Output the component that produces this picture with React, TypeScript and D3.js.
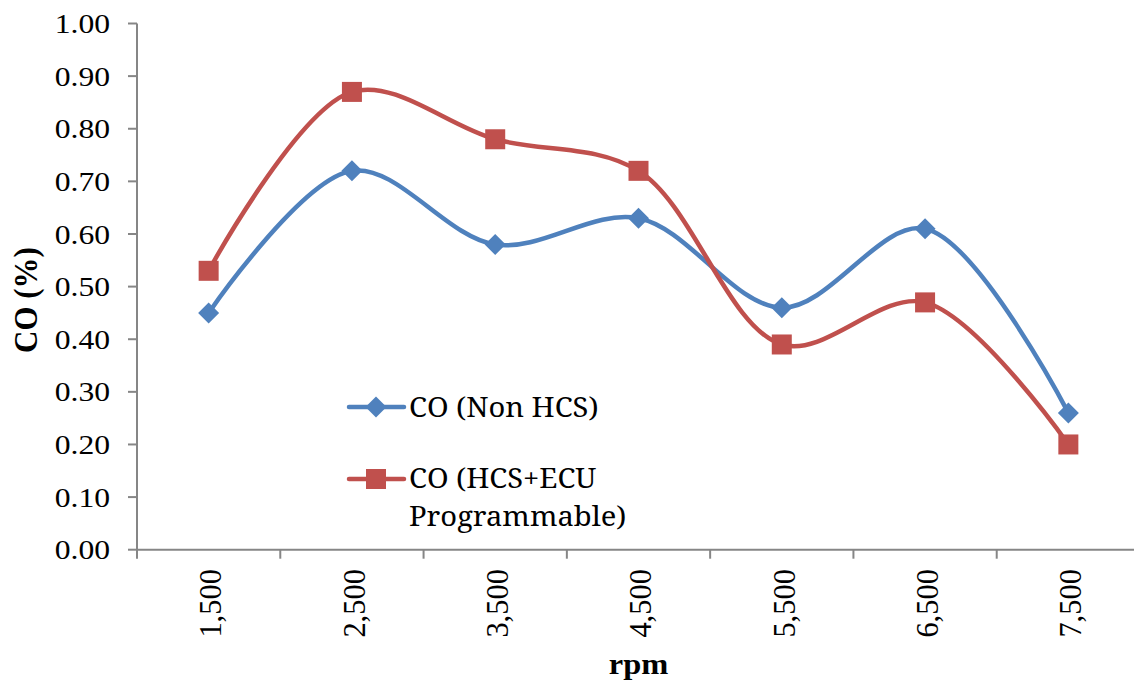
import React from "react";
import * as d3 from "d3";

const categories = ["1,500", "2,500", "3,500", "4,500", "5,500", "6,500", "7,500"];
const nonHCS = [0.45, 0.72, 0.58, 0.63, 0.46, 0.61, 0.26];
const hcsEcu = [0.53, 0.87, 0.78, 0.72, 0.39, 0.47, 0.2];
const yTicks = [0, 0.1, 0.2, 0.3, 0.4, 0.5, 0.6, 0.7, 0.8, 0.9, 1.0];

const W = 1134;
const H = 686;
const left = 137;
const right = 1140;
const top = 23.5;
const bottom = 549.7;
const BLUE = "#4F81BD";
const RED = "#C0504D";
const AXIS = "#868686";
const serif = "Liberation Serif, serif";
const legendFont = "Noto Serif, serif";

export default function App() {
  const x = d3.scaleBand<string>().domain(categories).range([left, right]).padding(0);
  const y = d3.scaleLinear().domain([0, 1]).range([bottom, top]);
  const cx = (c: string) => (x(c) as number) + x.bandwidth() / 2;
  const line = d3
    .line<number>()
    .x((_, i) => cx(categories[i]))
    .y((d) => y(d))
    .curve(d3.curveCatmullRom.alpha(0.5));

  const diamond = (px: number, py: number, r: number) =>
    `M${px},${py - r}L${px + r},${py}L${px},${py + r}L${px - r},${py}Z`;

  const boundaries = d3.range(categories.length + 1).map((i) => left + i * x.bandwidth());

  return (
    <svg width={W} height={H} style={{ position: "absolute", left: 0, top: 0, background: "#fff" }}>
      {/* axes */}
      <line x1={left} x2={left} y1={top} y2={bottom} stroke={AXIS} strokeWidth={2} />
      <line x1={left} x2={right} y1={bottom} y2={bottom} stroke={AXIS} strokeWidth={2} />
      {yTicks.map((t) => (
        <g key={t}>
          <line x1={left - 9} x2={left} y1={y(t)} y2={y(t)} stroke={AXIS} strokeWidth={2} />
          <text
            transform={`translate(110,${y(t)}) scale(1.15,1)`}
            dy="0.35em"
            textAnchor="end"
            fontFamily={serif}
            fontSize={27.5}
            fill="#000"
          >
            {t.toFixed(2)}
          </text>
        </g>
      ))}
      {boundaries.map((b, i) => (
        <line key={i} x1={b} x2={b} y1={bottom} y2={bottom + 9} stroke={AXIS} strokeWidth={2} />
      ))}
      {categories.map((c) => (
        <text
          key={c}
          transform={`translate(${cx(c)},569) scale(1.05,1) rotate(-90)`}
          dy="0.4em"
          textAnchor="end"
          fontFamily={serif}
          fontSize={30.5}
          fill="#000"
        >
          {c}
        </text>
      ))}
      <text
        transform={`translate(${(left + right) / 2},674) scale(1.12,1)`}
        textAnchor="middle"
        fontFamily={serif}
        fontSize={29}
        fontWeight="bold"
        fill="#000"
      >
        rpm
      </text>
      <text
        transform={`translate(37,300) scale(1.12,1) rotate(-90)`}
        textAnchor="middle"
        fontFamily={serif}
        fontSize={31}
        fontWeight="bold"
        fill="#000"
      >
        CO (%)
      </text>

      {/* series */}
      <path d={line(nonHCS) || ""} fill="none" stroke={BLUE} strokeWidth={4.5} />
      <path d={line(hcsEcu) || ""} fill="none" stroke={RED} strokeWidth={4.5} />
      {nonHCS.map((v, i) => (
        <path key={"b" + i} d={diamond(cx(categories[i]), y(v), 10.5)} fill={BLUE} />
      ))}
      {hcsEcu.map((v, i) => (
        <rect
          key={"r" + i}
          x={cx(categories[i]) - 10}
          y={y(v) - 10}
          width={20}
          height={20}
          fill={RED}
        />
      ))}

      {/* legend */}
      <line x1={349} x2={404} y1={407} y2={407} stroke={BLUE} strokeWidth={4.5} strokeLinecap="round" />
      <path d={diamond(376, 407, 10.5)} fill={BLUE} />
      <text transform="translate(409,417) scale(1.06,1)" fontFamily={legendFont} fontSize={27.5} fill="#000">
        CO (Non HCS)
      </text>
      <line x1={349} x2={404} y1={479} y2={479} stroke={RED} strokeWidth={4.5} strokeLinecap="round" />
      <rect x={366} y={469} width={20} height={20} fill={RED} />
      <text transform="translate(409,488) scale(1.06,1)" fontFamily={legendFont} fontSize={27.5} fill="#000">
        CO (HCS+ECU
      </text>
      <text transform="translate(409,526) scale(1.06,1)" fontFamily={legendFont} fontSize={27.5} fill="#000">
        Programmable)
      </text>
    </svg>
  );
}
